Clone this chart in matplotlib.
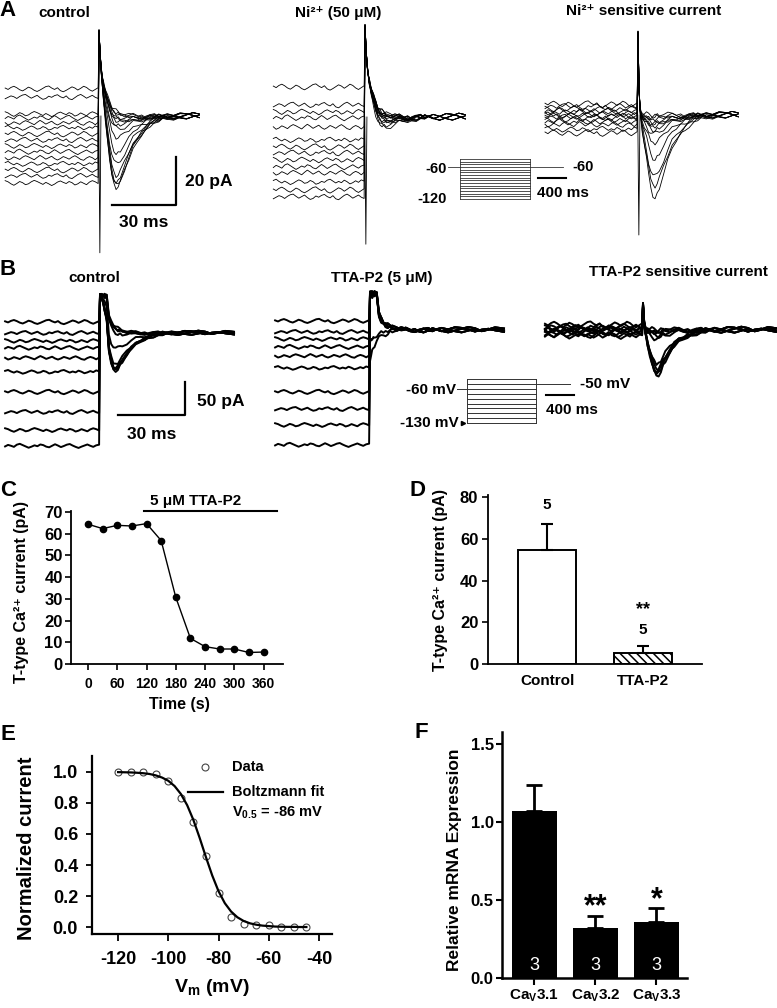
import numpy as np
import matplotlib
matplotlib.use("Agg")
import matplotlib.pyplot as plt

plt.rcParams['font.family'] = ['Liberation Sans', 'DejaVu Sans']
plt.rcParams['font.weight'] = 'bold'
plt.rcParams['mathtext.fontset'] = 'custom'
plt.rcParams['mathtext.rm'] = 'Liberation Sans:bold'
plt.rcParams['mathtext.it'] = 'Liberation Sans:bold'
plt.rcParams['mathtext.bf'] = 'Liberation Sans:bold'
plt.rcParams['axes.unicode_minus'] = False
plt.rcParams['hatch.linewidth'] = 1.1

# ---------------- data ----------------
# C: time course of T-type current
c_time = [0, 30, 60, 90, 120, 150, 180, 210, 240, 270, 300, 330, 360]
c_current = [64.3, 62.3, 63.8, 63.5, 64.6, 56.8, 30.7, 11.8, 8.0, 6.9, 6.9, 5.3, 5.5]

# D: mean current, control vs TTA-P2
d_groups = ['Control', 'TTA-P2']
d_mean = [54.5, 5.1]
d_sem = [12.5, 3.7]
d_n = ['5', '5']

# E: steady-state inactivation
e_vm = [-120, -115, -110, -105, -100, -95, -90, -85, -80, -75, -70, -65, -60, -55, -50, -45]
e_norm = [1.0, 1.0, 1.0, 0.99, 0.94, 0.83, 0.675, 0.458, 0.218, 0.062, 0.019, 0.011, 0.011, 0.002, 0.0, 0.0]
e_fit_vm = [-120, -117.5, -115, -112.5, -110, -107.5, -105, -102.5, -100, -97.5, -95, -92.5,
            -90, -87.5, -85, -82.5, -80, -77.5, -75, -72.5, -70, -67.5, -65, -62.5, -60,
            -57.5, -55, -52.5, -50, -47.5, -45]
e_fit = [0.999, 0.998, 0.997, 0.995, 0.992, 0.987, 0.978, 0.964, 0.943, 0.909, 0.858, 0.786,
         0.690, 0.574, 0.450, 0.332, 0.231, 0.154, 0.100, 0.063, 0.039, 0.024, 0.015, 0.009,
         0.006, 0.003, 0.002, 0.001, 0.001, 0.0, 0.0]

# F: relative mRNA expression
f_genes = ['Ca$_{V}$3.1', 'Ca$_{V}$3.2', 'Ca$_{V}$3.3']
f_mean = [1.07, 0.32, 0.36]
f_sem = [0.17, 0.08, 0.09]
f_n = ['3', '3', '3']
f_sig = ['', '**', '*']

# example traces (A, B): hand read wiggles, post-step time grid and kinetics
noise_rows = [
    [0.3, -0.2, 0.5, 0.9, 0.4, -0.3, -0.7, -0.1, 0.6, 0.2, -0.5, -0.9, -0.4, 0.2, 0.8, 1.0, 0.3,
     -0.2, 0.4, -0.6, -1.0, -0.5, 0.1, 0.7, 0.3, -0.4, 0.2, 0.9, 0.5, -0.3, -0.8, -0.2, 0.4],
    [-0.6, -0.1, 0.4, 0.1, -0.5, 0.2, 0.7, 0.9, 0.2, -0.4, 0.1, 0.6, -0.2, -0.8, -0.5, 0.3, -0.1,
     0.5, 0.8, 0.1, -0.3, 0.4, -0.6, -0.9, -0.2, 0.5, 0.9, 0.3, -0.4, 0.1, 0.6, -0.1, -0.5],
    [0.8, 0.4, -0.3, -0.8, -0.2, 0.5, 0.1, -0.6, -0.3, 0.4, 0.9, 0.5, 0.0, -0.5, 0.2, -0.3, -0.9,
     -0.4, 0.3, 0.7, 0.2, -0.2, 0.5, 0.1, -0.7, -0.3, 0.4, -0.1, -0.6, 0.3, 0.8, 0.4, -0.2],
    [-0.2, 0.5, 0.1, -0.4, 0.6, 1.0, 0.4, -0.2, -0.8, -0.3, 0.3, -0.1, 0.7, 0.4, -0.3, -0.6, 0.1,
     0.8, 0.2, -0.5, 0.0, 0.6, 0.9, 0.2, -0.4, -0.9, -0.3, 0.2, 0.7, 0.1, -0.4, 0.3, 0.6],
    [0.1, -0.7, -0.3, 0.4, 0.0, -0.5, 0.3, 0.8, 0.4, -0.1, -0.6, 0.2, 0.9, 0.3, -0.4, 0.1, 0.6,
     -0.2, -0.7, -0.2, 0.5, 0.1, -0.4, 0.3, 0.8, 0.2, -0.5, -0.8, 0.0, 0.5, 0.1, -0.6, 0.2],
    [0.5, 0.9, 0.2, -0.3, 0.3, -0.2, -0.8, -0.4, 0.2, 0.7, 0.3, -0.4, -0.2, 0.5, 0.1, -0.7, -0.4,
     0.2, -0.1, 0.6, 0.9, 0.3, -0.3, 0.2, -0.2, 0.6, 0.1, -0.6, -0.2, 0.4, -0.1, 0.7, 0.3],
]
t_post = [0, 0.5, 1, 1.5, 2, 3, 4, 5, 6, 7, 8, 9, 10, 12, 14, 16, 18, 20, 22, 24, 26, 28, 30,
          32, 35, 38, 41, 44, 47, 50, 53, 56, 60]
shape_a = [0, .02, .06, .12, .2, .38, .56, .74, .88, .97, 1.0, .97, .9, .73, .57, .43, .32, .23,
           .17, .12, .085, .06, .04, .03, .02, .01, .005, 0, 0, 0, 0, 0, 0]
shape_b = [0, .03, .1, .2, .32, .55, .78, .93, 1.0, .97, .9, .8, .7, .52, .38, .27, .19, .13,
           .09, .06, .04, .03, .02, .01, .005, 0, 0, 0, 0, 0, 0, 0, 0]
tail = [1.0, .85, .72, .62, .54, .4, .3, .22, .16, .12, .09, .065, .05, .03, .015, .01, .005] + [0.0] * 16
cap_a = [1.0, .75, .58, .47, .4, .3, .22, .16, .11, .08, .05, .03, .02, .01] + [0.0] * 19
cap_b = [1.0, 1.0, 1.0, 1.0, 1.0, 1.0, .42, .3, .22, .16, .11, .08, .05, .025, .01] + [0.0] * 18
cap_s = [1.0, .3, .08, .02] + [0.0] * 29

a_ctrl_levels = [11.3, 7.9, 0.8, -0.8, -2.9, -5.0, -7.5, -10.0, -12.5, -15.0, -17.5, -20.0, -22.5, -25.0, -27.9]
a_ctrl_dips = [0, 0, 1, 2, 3, 4, 5, 7, 11, 17, 22, 27, 29, 31, 32]
a_ni_levels = [12.5, 5.0, 2.1, -0.4, -4.2, -9.6, -12.5, -15.0, -17.9, -20.8, -23.3, -27.1, -30.4, -33.3]
a_ni_dips = [0, 0, 0, 0, 0, 1, 1, 2, 2, 3, 3, 4, 5, 6]
a_sens_levels = [4.5, 3.5, 2.5, 1.5, 1.0, 0.0, -0.5, -1.0, -2.0, -3.0, -4.0, -6.0, -7.5]
a_sens_dips = [0, 1, 2, 3, 4, 5, 6, 8, 12, 18, 26, 30, 34]
b_ctrl_levels = [16.7, 0.0, -12.0, -22.7, -37.9, -59.0, -89.4, -119.7, -147.0, -171.2]
b_ctrl_dips = [0, 0, 3, 8, 33, 58, 63, 65, 66, 67]
b_tta_levels = [13.6, -3.0, -13.6, -25.8, -39.4, -57.6, -93.9, -119.7, -143.9, -174.2]
b_tta_dips = [0, 0, 0, 0, 2, 4, 6, 8, 20, 45]
b_tta_cap = [1, 1, 1, 1, 1, 1, 1, 1, 0, 0]
b_sens_levels = [8, 5, 3, 1, 0, -1, -3, -5, -7, -9]
b_sens_dips = [0, 2, 4, 8, 12, 52, 58, 62, 66, 68]

# voltage protocols (mV)
prot_a_levels = [-120, -115, -110, -105, -100, -95, -90, -85, -80, -75, -70, -65, -60, -55, -50, -45]
prot_a_test = -60
prot_b_levels = [-130, -120, -110, -100, -90, -80, -70, -60, -50, -40]
prot_b_test = -50

# ---------------- figure ----------------
W, H = 777, 1008
fig = plt.figure(figsize=(W / 100, H / 100), dpi=100)


def px_axes(l, t, r, b):
    return fig.add_axes([l / W, 1 - b / H, (r - l) / W, (b - t) / H])


def ftext(x, y, s, **kw):
    kw.setdefault('ha', 'center')
    kw.setdefault('va', 'center')
    return fig.text(x / W, 1 - y / H, s, **kw)


def trace_axes(l, t, r, b, t0, ms_px, i0, pa_px):
    ax = px_axes(l, t, r, b)
    ax.set_xlim((l - t0) / ms_px, (r - t0) / ms_px)
    ax.set_ylim((i0 - b) / pa_px, (i0 - t) / pa_px)
    ax.axis('off')
    return ax


def draw_traces(ax, t_start, t_end, levels, dips, shape, cap, cap_amp, npre, npost, lw,
                cap_scale=None, spike=None):
    t_pre = np.linspace(t_start, -0.4, len(noise_rows[0]))
    tp = np.array(t_post)
    keep = tp <= t_end
    for i, (lv, dp) in enumerate(zip(levels, dips)):
        cs = 1.0 if cap_scale is None else cap_scale[i]
        pre = lv + npre * np.array(noise_rows[i % 6])
        post = (cs * cap_amp * np.array(cap) - dp * np.array(shape)
                + npost * np.array(noise_rows[(2 * i + 1) % 6][::-1]))
        ax.plot(np.r_[t_pre, tp[keep]], np.r_[pre, post[keep]], color='k', lw=lw)
    if spike is not None:
        ax.plot([-0.1, 0.4, 0.9], [0, spike, 0], color='k', lw=lw)


def draw_protocol(ax, levels, test, test_ms, lw):
    for lv in levels:
        ax.plot([0, 1000], [lv, lv], color='#333333', lw=lw)
    ax.plot([0, 0], [min(levels), max(levels)], color='#333333', lw=lw)
    ax.plot([1000, 1000], [min(levels), max(levels)], color='#333333', lw=lw)
    ax.plot([1000, 1000 + test_ms], [test, test], color='#333333', lw=lw)


# ---- panel A traces ----
ax = trace_axes(0, 20, 262, 262, 99, 2.133, 116, 2.4)
draw_traces(ax, -44, 47, a_ctrl_levels, a_ctrl_dips, shape_a, cap_a, 35, 1.2, 1.4, 0.6, spike=-57)
ax.plot([6.1, 36.1, 36.1], [-37.1, -37.1, -17.1], color='k', lw=1.6)
ax.text(40.3, -27.3, '20 pA', fontsize=12.5, ha='left', va='center')
ax.text(21.1, -44.5, '30 ms', fontsize=12.5, ha='center', va='center')

ax = trace_axes(262, 20, 500, 262, 365, 2.133, 117, 2.4)
draw_traces(ax, -43, 48, a_ni_levels, a_ni_dips, shape_a, cap_a, 37.5, 1.3, 1.6, 0.6, spike=-53)

ax = trace_axes(530, 20, 777, 262, 638, 2.133, 115, 2.4)
draw_traces(ax, -43.6, 47.8, a_sens_levels, a_sens_dips, shape_a, cap_s, 34, 1.4, 1.5, 0.6, spike=-50)

# protocol A
ax = px_axes(400, 145, 610, 210)
ax.set_xlim((400 - 460) / 0.07, (610 - 460) / 0.07)
ax.set_ylim(-60 - (210 - 167) / 0.533, -60 - (145 - 167) / 0.533)
ax.axis('off')
draw_protocol(ax, prot_a_levels, prot_a_test, 470, 0.6)
ax.plot([-170, 0], [prot_a_test, prot_a_test], color='#333333', lw=0.6)
ax.text(-190, -63, '-60', fontsize=10.5, ha='right', va='center')
ax.text(-190, -120, '-120', fontsize=10.5, ha='right', va='center')
ax.text(1600, prot_a_test, '-60', fontsize=10.5, ha='left', va='center')
ax.plot([1110, 1510], [-80.6, -80.6], color='k', lw=1.5)
ax.text(1100, -108.8, '400 ms', fontsize=11, ha='left', va='center')

# ---- panel B traces ----
ax = trace_axes(0, 285, 262, 462, 100, 2.233, 333, 0.66)
draw_traces(ax, -42.5, 62, b_ctrl_levels, b_ctrl_dips, shape_b, cap_b, 57, 3.3, 3.5, 1.4)
ax.plot([8.1, 38.1, 38.1], [-124.2, -124.2, -74.2], color='k', lw=1.6)
ax.text(43.4, -104.5, '50 pA', fontsize=12.5, ha='left', va='center')
ax.text(23.1, -154.5, '30 ms', fontsize=12.5, ha='center', va='center')

ax = trace_axes(262, 285, 520, 462, 370, 2.233, 330, 0.66)
draw_traces(ax, -42.5, 62, b_tta_levels, b_tta_dips, tail, cap_b, 56, 3.3, 4.5, 1.4,
            cap_scale=b_tta_cap)

ax = trace_axes(530, 285, 777, 462, 643, 2.233, 330, 0.66)
draw_traces(ax, -43.9, 60, b_sens_levels, b_sens_dips, shape_b, cap_s, 38, 5.0, 5.0, 1.4)

# protocol B
ax = px_axes(390, 368, 650, 437)
ax.set_xlim((390 - 467) / 0.069, (650 - 467) / 0.069)
ax.set_ylim(-50 - (437 - 384) / 0.4875, -50 - (368 - 384) / 0.4875)
ax.axis('off')
draw_protocol(ax, prot_b_levels, prot_b_test, 490, 0.7)
ax.plot([-150, 0], [-60, -60], color='#333333', lw=0.7)
ax.text(-165, -62, '-60 mV', fontsize=11, ha='right', va='center')
ax.text(-120, -130, '-130 mV', fontsize=11, ha='right', va='center')
ax.plot([-60], [-130], marker='>', color='k', ms=3)
ax.text(1638, prot_b_test, '-50 mV', fontsize=11, ha='left', va='center')
ax.plot([1145, 1545], [-72.6, -72.6], color='k', lw=1.5)
ax.text(1145, -103.3, '400 ms', fontsize=11, ha='left', va='center')

# titles and panel letters
ftext(64, 13, 'control', fontsize=11)
ftext(338, 13, 'Ni\u00b2\u207a (50 \u03bcM)', fontsize=11)
ftext(644, 11, 'Ni\u00b2\u207a sensitive current', fontsize=11)
ftext(94, 278, 'control', fontsize=11)
ftext(382, 278, 'TTA-P2 (5 \u03bcM)', fontsize=11)
ftext(678, 272, 'TTA-P2 sensitive current', fontsize=11)
for letter, x, y in [('A', 8, 11), ('B', 8, 270), ('C', 8, 490), ('D', 418, 490),
                     ('E', 8, 735), ('F', 421, 732)]:
    ftext(x, y, letter, fontsize=16)


def style_axes(ax, lw=1.3):
    for s in ['top', 'right']:
        ax.spines[s].set_visible(False)
    for s in ['left', 'bottom']:
        ax.spines[s].set_linewidth(lw)


# ---- panel C ----
ax = px_axes(71, 511, 283, 664)
style_axes(ax)
ax.plot(c_time, c_current, color='k', lw=1.0, marker='o', ms=4.5)
ax.set_xlim(-35, 400)
ax.set_ylim(0, 70.4)
ax.set_xticks([0, 60, 120, 180, 240, 300, 360])
ax.set_yticks([0, 10, 20, 30, 40, 50, 60, 70])
ax.tick_params(axis='y', direction='out', length=4, width=1.2, pad=2, labelsize=12)
ax.tick_params(axis='x', direction='out', length=4, width=1.2, pad=5, labelsize=10)
ax.plot([115, 388], [70.4, 70.4], color='k', lw=1.5, clip_on=False)
ax.text(220, 72.0, '5 \u03bcM TTA-P2', fontsize=11, ha='center', va='bottom')
ftext(22, 592, 'T-type Ca\u00b2\u207a current (pA)', fontsize=11.5, rotation=90)
ftext(179, 705, 'Time (s)', fontsize=11.5)

# ---- panel D ----
ax = px_axes(488, 495, 702, 664)
style_axes(ax)
xd = np.arange(len(d_groups))
ax.bar(xd[0], d_mean[0], width=0.61, color='white', edgecolor='k', lw=1.4)
ax.bar(xd[1], d_mean[1], width=0.61, color='white', edgecolor='k', lw=1.4, hatch='\\\\\\\\')
ax.errorbar(xd, d_mean, yerr=[[0, 0], d_sem], fmt='none', ecolor='k', elinewidth=1.5,
            capsize=4, capthick=1.5)
ax.set_xlim(-0.62, 1.62)
ax.set_ylim(0, 81)
ax.set_yticks([0, 20, 40, 60, 80])
ax.set_xticks(xd)
ax.set_xticklabels(d_groups)
ax.tick_params(axis='y', direction='out', length=4, width=1.2, pad=3, labelsize=12)
ax.tick_params(axis='x', length=0, pad=7, labelsize=11)
ax.text(xd[0], 76, d_n[0], fontsize=11, ha='center', va='center')
ax.text(xd[1], 16.3, d_n[1], fontsize=11, ha='center', va='center')
ax.text(xd[1], 26, '**', fontsize=13, ha='center', va='center')
ftext(441, 580, 'T-type Ca\u00b2\u207a current (pA)', fontsize=11.5, rotation=90)

# ---- panel E ----
ax = px_axes(92, 756, 332, 934)
style_axes(ax, lw=1.6)
ax.plot(e_vm, e_norm, 'o', mfc='none', mec='#444444', ms=5, mew=0.8, clip_on=False)
ax.plot(e_fit_vm, e_fit, color='k', lw=1.6)
ax.set_xlim(-130.4, -34.8)
ax.set_ylim(-0.045, 1.103)
ax.set_xticks([-120, -100, -80, -60, -40])
ax.set_yticks([0.0, 0.2, 0.4, 0.6, 0.8, 1.0])
ax.set_yticklabels(['0.0', '0.2', '0.4', '0.6', '0.8', '1.0'])
ax.tick_params(axis='y', direction='out', length=4, width=1.3, pad=6, labelsize=13)
ax.tick_params(axis='x', direction='out', length=5, width=1.3, pad=7, labelsize=13)
ax.plot([-85.4], [1.032], 'o', mfc='none', mec='#444444', ms=5, mew=0.8, clip_on=False)
ax.plot([-92.2, -78.3], [0.871, 0.871], color='k', lw=1.6)
ax.text(-74.6, 1.032, 'Data', fontsize=10.5, ha='left', va='center')
ax.text(-74.6, 0.871, 'Boltzmann fit', fontsize=10.5, ha='left', va='center')
ax.text(-74.6, 0.735, 'V$_{0.5}$ = -86 mV', fontsize=10.5, ha='left', va='center')
ftext(27, 848, 'Normalized current', fontsize=14.5, rotation=90)
ftext(212, 988, 'V$_{m}$ (mV)', fontsize=14)

# ---- panel F ----
ax = px_axes(502, 732, 687, 978)
style_axes(ax, lw=1.8)
xf = np.arange(len(f_genes))
ax.bar(xf, f_mean, width=0.74, color='k')
ax.errorbar(xf, f_mean, yerr=[[0, 0, 0], f_sem], fmt='none', ecolor='k', elinewidth=2.0,
            capsize=5.5, capthick=2.0)
ax.set_xlim(-0.53, 2.5)
ax.set_ylim(0, 1.58)
ax.set_yticks([0.0, 0.5, 1.0, 1.5])
ax.set_yticklabels(['0.0', '0.5', '1.0', '1.5'])
ax.set_xticks(xf)
ax.set_xticklabels(f_genes)
ax.tick_params(axis='y', direction='out', length=4, width=1.5, pad=2, labelsize=12)
ax.tick_params(axis='x', direction='out', length=5, width=1.5, pad=2, labelsize=11)
for x, n, s, m, e in zip(xf, f_n, f_sig, f_mean, f_sem):
    ax.text(x, 0.083, n, fontsize=13, fontweight='normal', color='white', ha='center', va='center')
    if s:
        ax.text(x, m + e + 0.0, s, fontsize=22, ha='center', va='baseline')
ftext(455, 860, 'Relative mRNA Expression', fontsize=12.5, rotation=90)

fig.savefig('out.png', dpi=100)
